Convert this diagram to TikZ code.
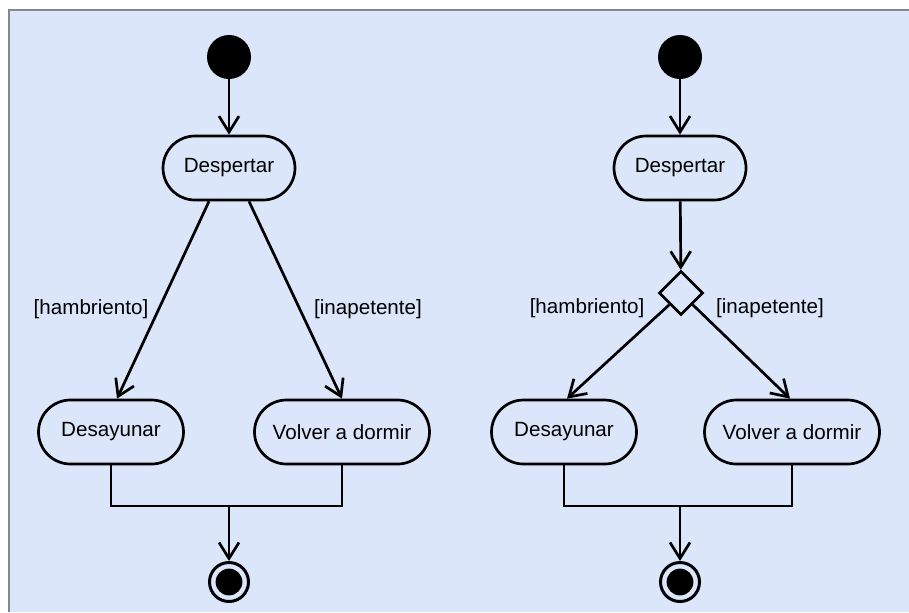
\documentclass[tikz,border=0pt]{standalone}
\usepackage{fontspec}
\setmainfont{Liberation Sans}
\usetikzlibrary{positioning, arrows.meta, shapes.geometric}
\definecolor{panelblue}{RGB}{220,230,250}
\definecolor{rimgray}{RGB}{130,136,146}

\begin{document}
\begin{tikzpicture}[
  x=0.5pt, y=-0.5pt,
  >={Straight Barb[length=8pt, width=10pt]},
  every node/.style={font=\fontsize{10.3}{12}\selectfont, text=black},
  act/.style    = {draw, line width=1.35pt, rounded corners=16pt, minimum height=32pt, inner sep=2pt},
  wake/.style   = {act, minimum width=66pt},
  eat/.style    = {act, minimum width=72.5pt},
  sleep/.style  = {act, minimum width=87.5pt},
  initst/.style = {circle, fill=black, minimum size=22pt, inner sep=0pt},
  endst/.style  = {circle, draw, line width=1.5pt, minimum size=19.5pt, inner sep=0pt,
                   path picture={\fill (path picture bounding box.center) circle (6.7pt);}},
  dec/.style    = {diamond, draw, line width=1.35pt, minimum width=22pt, minimum height=22pt, inner sep=0pt},
  guard/.style  = {inner sep=0pt},
  arr/.style    = {->, line width=1.35pt},
  flow/.style   = {line width=1.35pt},
]
  % panel
  \useasboundingbox (0,0) rectangle (909,612);
  \fill[panelblue] (9,10) rectangle (909,612);
  \draw[rimgray, line width=0.8pt] (9,612) -- (9,10) -- (909,10);

  % Left: guarded flows straight out of the activity
  \node[initst]      (L-start) at (229,57)  {};
  \node[wake]        (L-desp)  at (229,168) {Despertar};
  \node[eat]         (L-des)   at (111,432) {Desayunar};
  \node[sleep]       (L-vol)   at (342,432) {Volver a dormir};
  \node[endst]       (L-end)   at (229,582) {};
  \coordinate        (L-join)  at (229,506);
  \node[guard]       (L-hun)   at (91,309)  {[hambriento]};
  \node[guard]       (L-ina)   at (368,309) {[inapetente]};

  \draw[arr] (L-start) -- (L-desp);
  \draw[arr] ([xshift=-10pt]L-desp.south) -- ([xshift=3pt]L-des.north);
  \draw[arr] ([xshift=10pt]L-desp.south) -- (L-vol.north);
  \draw[flow] (L-des.south) |- (L-join) -| (L-vol.south);
  \draw[arr] (L-join) -- (L-end);

  % Right: same flows through a decision node
  \node[initst]      (R-start) at (680,57)  {};
  \node[wake]        (R-desp)  at (680,168) {Despertar};
  \node[dec]         (R-dec)   at (681,293) {};
  \node[eat]         (R-des)   at (564,432) {Desayunar};
  \node[sleep]       (R-vol)   at (792,432) {Volver a dormir};
  \node[endst]       (R-end)   at (680,582) {};
  \coordinate        (R-join)  at (680,506);
  \node[guard]       (R-hun)   at (587,308) {[hambriento]};
  \node[guard]       (R-ina)   at (770,308) {[inapetente]};

  \foreach \a/\b in {R-start/R-desp, R-desp/R-dec, R-join/R-end}
     \draw[arr] (\a) -- (\b);
  \draw[arr] (R-dec.south west) -- ([xshift=1.5pt]R-des.north);
  \draw[arr] (R-dec.south east) -- ([xshift=-1pt]R-vol.north);
  \draw[flow] (R-des.south) |- (R-join) -| (R-vol.south);
\end{tikzpicture}
\end{document}
